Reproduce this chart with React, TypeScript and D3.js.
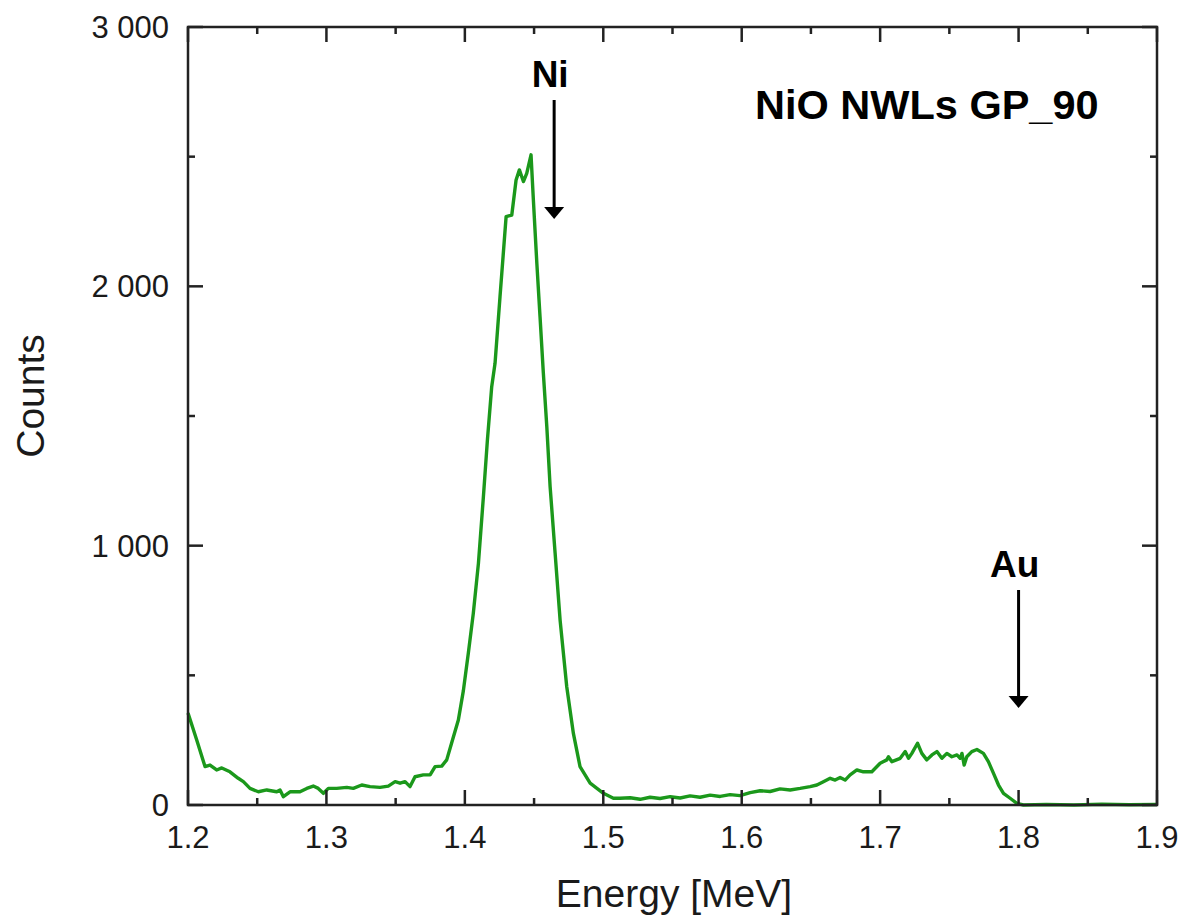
import React from "react";
import * as d3 from "d3";

const energy = [
  1.2, 1.2063, 1.2123, 1.2159, 1.2207, 1.2244, 1.2303, 1.2363, 1.24, 1.2448,
  1.2508, 1.2569, 1.2641, 1.2665, 1.2689, 1.2737, 1.2809, 1.2858, 1.2905, 1.2941,
  1.2978, 1.3014, 1.3074, 1.3147, 1.3194, 1.3255, 1.3315, 1.3387, 1.3447, 1.3496,
  1.3532, 1.3568, 1.3604, 1.364, 1.37, 1.3749, 1.3785, 1.3833, 1.3869, 1.3905,
  1.3953, 1.3989, 1.4025, 1.4061, 1.4098, 1.4134, 1.4163, 1.4194, 1.4218, 1.4254,
  1.4298, 1.4339, 1.437, 1.4394, 1.4423, 1.4447, 1.4478, 1.4495, 1.452, 1.4543,
  1.4567, 1.4592, 1.4616, 1.4652, 1.4688, 1.4736, 1.4784, 1.4832, 1.4905, 1.5001,
  1.5073, 1.5121, 1.5194, 1.5266, 1.5338, 1.541, 1.5483, 1.5555, 1.5627, 1.5699,
  1.5772, 1.5844, 1.5916, 1.5988, 1.6061, 1.6133, 1.6205, 1.6277, 1.635, 1.6422,
  1.6494, 1.6543, 1.659, 1.6639, 1.6675, 1.6711, 1.6747, 1.6783, 1.6832, 1.6879,
  1.694, 1.7, 1.7048, 1.706, 1.7085, 1.7145, 1.7181, 1.7205, 1.7229, 1.727,
  1.7301, 1.7337, 1.7374, 1.741, 1.7446, 1.7482, 1.7518, 1.7555, 1.7578, 1.7591,
  1.7607, 1.7626, 1.7662, 1.7699, 1.7746, 1.7782, 1.7819, 1.7855, 1.7891, 1.7939,
  1.7988, 1.8035, 1.82, 1.84, 1.86, 1.88, 1.9,
];

const counts = [
  355, 251, 148, 154, 135, 143, 128, 103, 90, 64,
  51, 58, 51, 58, 32, 51, 51, 64, 73, 64,
  45, 64, 64, 68, 64, 77, 71, 68, 73, 90,
  84, 90, 71, 109, 116, 116, 148, 150, 174, 240,
  328, 440, 585, 739, 932, 1189, 1408, 1613, 1703, 1960,
  2269, 2275, 2410, 2449, 2404, 2436, 2507, 2333, 2089, 1883,
  1665, 1459, 1227, 971, 713, 456, 276, 148, 84, 45,
  26, 26, 28, 22, 30, 25, 32, 27, 35, 30,
  38, 33, 40, 36, 48, 55, 52, 62, 58, 64,
  71, 77, 90, 103, 96, 106, 96, 116, 135, 128,
  128, 161, 174, 186, 167, 180, 206, 180, 199, 238,
  199, 174, 193, 206, 180, 199, 186, 193, 180, 199,
  154, 186, 206, 214, 199, 167, 122, 77, 45, 26,
  6, 0, 2, 0, 3, 1, 2,
];

const xTicks = [1.2, 1.3, 1.4, 1.5, 1.6, 1.7, 1.8, 1.9];
const xTickLabels = ["1.2", "1.3", "1.4", "1.5", "1.6", "1.7", "1.8", "1.9"];
const xMinor = [1.25, 1.35, 1.45, 1.55, 1.65, 1.75, 1.85];
const yTicks = [0, 1000, 2000, 3000];
const yTickLabels = ["0", "1 000", "2 000", "3 000"];
const yMinor = [500, 1500, 2500];

const annotations = [
  { label: "Ni", x: 1.4645, textY: 87, from: 100, to: 219 },
  { label: "Au", x: 1.8, textY: 577, from: 590, to: 708 },
];

export default function App() {
  const W = 1195, H = 924;
  const L = 188, R = 1157, T = 27, B = 805;
  const x = d3.scaleLinear().domain([1.2, 1.9]).range([L, R]);
  const y = d3.scaleLinear().domain([0, 3000]).range([B, T]);
  const pts = energy.map((e, i) => [e, counts[i]] as [number, number]);
  const line = d3.line<[number, number]>().x((d) => x(d[0])).y((d) => y(d[1]));
  const font = "'Liberation Sans', Arial, Helvetica, sans-serif";
  const ax = "#222";
  const major = 15, minor = 7;

  return (
    <svg width={W} height={H} style={{ position: "absolute", left: 0, top: 0, background: "#fff" }} fontFamily={font}>
      <rect x={0} y={0} width={W} height={H} fill="#fff" />
      <path d={line(pts) || ""} fill="none" stroke="#1b981b" strokeWidth={3.4} strokeLinejoin="round" />
      {xTicks.map((t) => (
        <g key={"xt" + t}>
          <line x1={x(t)} x2={x(t)} y1={B} y2={B - major} stroke={ax} strokeWidth={2.5} />
          <line x1={x(t)} x2={x(t)} y1={T} y2={T + major} stroke={ax} strokeWidth={2.5} />
        </g>
      ))}
      {xMinor.map((t) => (
        <g key={"xm" + t}>
          <line x1={x(t)} x2={x(t)} y1={B} y2={B - minor} stroke={ax} strokeWidth={2.5} />
          <line x1={x(t)} x2={x(t)} y1={T} y2={T + minor} stroke={ax} strokeWidth={2.5} />
        </g>
      ))}
      {yTicks.map((t) => (
        <g key={"yt" + t}>
          <line x1={L} x2={L + major} y1={y(t)} y2={y(t)} stroke={ax} strokeWidth={2.5} />
          <line x1={R} x2={R - major} y1={y(t)} y2={y(t)} stroke={ax} strokeWidth={2.5} />
        </g>
      ))}
      {yMinor.map((t) => (
        <g key={"ym" + t}>
          <line x1={L} x2={L + minor} y1={y(t)} y2={y(t)} stroke={ax} strokeWidth={2.5} />
          <line x1={R} x2={R - minor} y1={y(t)} y2={y(t)} stroke={ax} strokeWidth={2.5} />
        </g>
      ))}
      <rect x={L} y={T} width={R - L} height={B - T} fill="none" stroke={ax} strokeWidth={2.5} />
      {xTicks.map((t, i) => (
        <text key={"xl" + t} x={x(t)} y={848} textAnchor="middle" fontSize={31} fill="#1a1a1a">
          {xTickLabels[i]}
        </text>
      ))}
      {yTicks.map((t, i) => (
        <text key={"yl" + t} x={169} y={y(t) + 11} textAnchor="end" fontSize={31} fill="#1a1a1a">
          {yTickLabels[i]}
        </text>
      ))}
      <text x={674} y={907} textAnchor="middle" fontSize={39} fill="#1a1a1a">Energy [MeV]</text>
      <text transform="translate(44,396) rotate(-90)" textAnchor="middle" fontSize={39} fill="#1a1a1a">Counts</text>
      {annotations.map((a) => (
        <g key={a.label}>
          <text x={x(a.x) - 4} y={a.textY} textAnchor="middle" fontSize={37} fontWeight="bold" fill="#000">
            {a.label}
          </text>
          <line x1={x(a.x)} x2={x(a.x)} y1={a.from} y2={a.to - 10} stroke="#000" strokeWidth={3} />
          <path d={`M${x(a.x) - 10},${a.to - 12} L${x(a.x) + 10},${a.to - 12} L${x(a.x)},${a.to} Z`} fill="#000" />
        </g>
      ))}
      <text x={755} y={119} fontSize={41.5} fontWeight="bold" fill="#000">NiO NWLs GP_90</text>
    </svg>
  );
}
